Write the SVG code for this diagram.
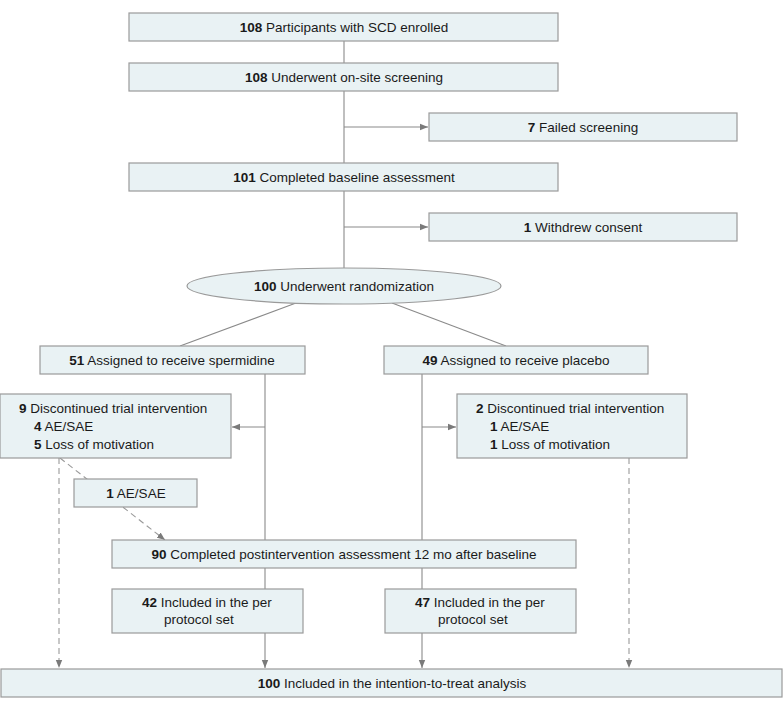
<svg xmlns="http://www.w3.org/2000/svg" width="783" height="711" viewBox="0 0 783 711">
<style>
.box{fill:#e9f2f4;stroke:#9a9a9a;stroke-width:1.2}
.ln{stroke:#8a8a8a;stroke-width:1.1;fill:none}
.dash{stroke:#9a9a9a;stroke-width:1.1;fill:none;stroke-dasharray:6,4}
text{font-family:"Liberation Sans",Arial,sans-serif;font-size:13.5px;fill:#1a1a1a}
.c{text-anchor:middle}
.b{font-weight:bold}
</style>
<defs>
<marker id="ah" viewBox="0 0 10 10" refX="10" refY="5" markerWidth="8" markerHeight="8" markerUnits="userSpaceOnUse" orient="auto">
<path d="M0,1 L10,5 L0,9 z" fill="#7a7a7a"/>
</marker>
</defs>
<g id="connectors">
<line class="ln" x1="344" y1="41" x2="344" y2="63"/>
<line class="ln" x1="344" y1="91" x2="344" y2="163"/>
<line class="ln" x1="344" y1="127" x2="428" y2="127" marker-end="url(#ah)"/>
<line class="ln" x1="344" y1="191" x2="344" y2="268"/>
<line class="ln" x1="344" y1="227" x2="428" y2="227" marker-end="url(#ah)"/>
<line class="ln" x1="296" y1="303" x2="180" y2="346"/>
<line class="ln" x1="392" y1="303" x2="506" y2="346"/>
<line class="ln" x1="265" y1="374" x2="265" y2="540"/>
<line class="ln" x1="422" y1="374" x2="422" y2="540"/>
<line class="ln" x1="265" y1="427" x2="232" y2="427" marker-end="url(#ah)"/>
<line class="ln" x1="422" y1="427" x2="456" y2="427" marker-end="url(#ah)"/>
<line class="dash" x1="60" y1="458" x2="165" y2="540" marker-end="url(#ah)"/>
<line class="dash" x1="59" y1="458" x2="59" y2="668" marker-end="url(#ah)"/>
<line class="dash" x1="629" y1="458" x2="629" y2="668" marker-end="url(#ah)"/>
<line class="ln" x1="265" y1="568" x2="265" y2="589"/>
<line class="ln" x1="422" y1="568" x2="422" y2="589"/>
<line class="ln" x1="265" y1="633" x2="265" y2="668" marker-end="url(#ah)"/>
<line class="ln" x1="422" y1="633" x2="422" y2="668" marker-end="url(#ah)"/>
</g>
<g id="enrolled"><rect class="box" x="129" y="13" width="429" height="28"/>
<text class="c" x="344" y="32"><tspan class="b">108</tspan> Participants with SCD enrolled</text></g>
<g id="screening"><rect class="box" x="129" y="63" width="429" height="28"/>
<text class="c" x="344" y="82"><tspan class="b">108</tspan> Underwent on-site screening</text></g>
<g id="failed"><rect class="box" x="429" y="113" width="308" height="28"/>
<text class="c" x="583" y="132"><tspan class="b">7</tspan> Failed screening</text></g>
<g id="baseline"><rect class="box" x="129" y="163" width="429" height="28"/>
<text class="c" x="344" y="182"><tspan class="b">101</tspan> Completed baseline assessment</text></g>
<g id="withdrew"><rect class="box" x="429" y="213" width="308" height="28"/>
<text class="c" x="583" y="232"><tspan class="b">1</tspan> Withdrew consent</text></g>
<g id="randomization"><ellipse class="box" cx="344" cy="286" rx="157" ry="18"/>
<text class="c" x="344" y="291"><tspan class="b">100</tspan> Underwent randomization</text></g>
<g id="spermidine"><rect class="box" x="40" y="346" width="265" height="28"/>
<text class="c" x="172" y="365"><tspan class="b">51</tspan> Assigned to receive spermidine</text></g>
<g id="placebo"><rect class="box" x="384" y="346" width="264" height="28"/>
<text class="c" x="516" y="365"><tspan class="b">49</tspan> Assigned to receive placebo</text></g>
<g id="disc-left"><rect class="box" x="0" y="394" width="231" height="64"/>
<text x="19" y="413"><tspan class="b">9</tspan> Discontinued trial intervention</text>
<text x="34" y="431"><tspan class="b">4</tspan> AE/SAE</text>
<text x="34" y="449"><tspan class="b">5</tspan> Loss of motivation</text></g>
<g id="disc-right"><rect class="box" x="457" y="394" width="230" height="64"/>
<text x="476" y="413"><tspan class="b">2</tspan> Discontinued trial intervention</text>
<text x="490" y="431"><tspan class="b">1</tspan> AE/SAE</text>
<text x="490" y="449"><tspan class="b">1</tspan> Loss of motivation</text></g>
<g id="ae"><rect class="box" x="74" y="479" width="123" height="28"/>
<text class="c" x="136" y="498"><tspan class="b">1</tspan> AE/SAE</text></g>
<g id="post"><rect class="box" x="112" y="540" width="464" height="28"/>
<text class="c" x="344" y="559"><tspan class="b">90</tspan> Completed postintervention assessment 12 mo after baseline</text></g>
<g id="pp-left"><rect class="box" x="112" y="589" width="191" height="44"/>
<text x="142" y="607"><tspan class="b">42</tspan> Included in the per</text>
<text x="164" y="624">protocol set</text></g>
<g id="pp-right"><rect class="box" x="385" y="589" width="191" height="44"/>
<text x="415" y="607"><tspan class="b">47</tspan> Included in the per</text>
<text x="438" y="624">protocol set</text></g>
<g id="itt"><rect class="box" x="1" y="669" width="781" height="28"/>
<text class="c" x="392" y="688"><tspan class="b">100</tspan> Included in the intention-to-treat analysis</text></g>
</svg>
